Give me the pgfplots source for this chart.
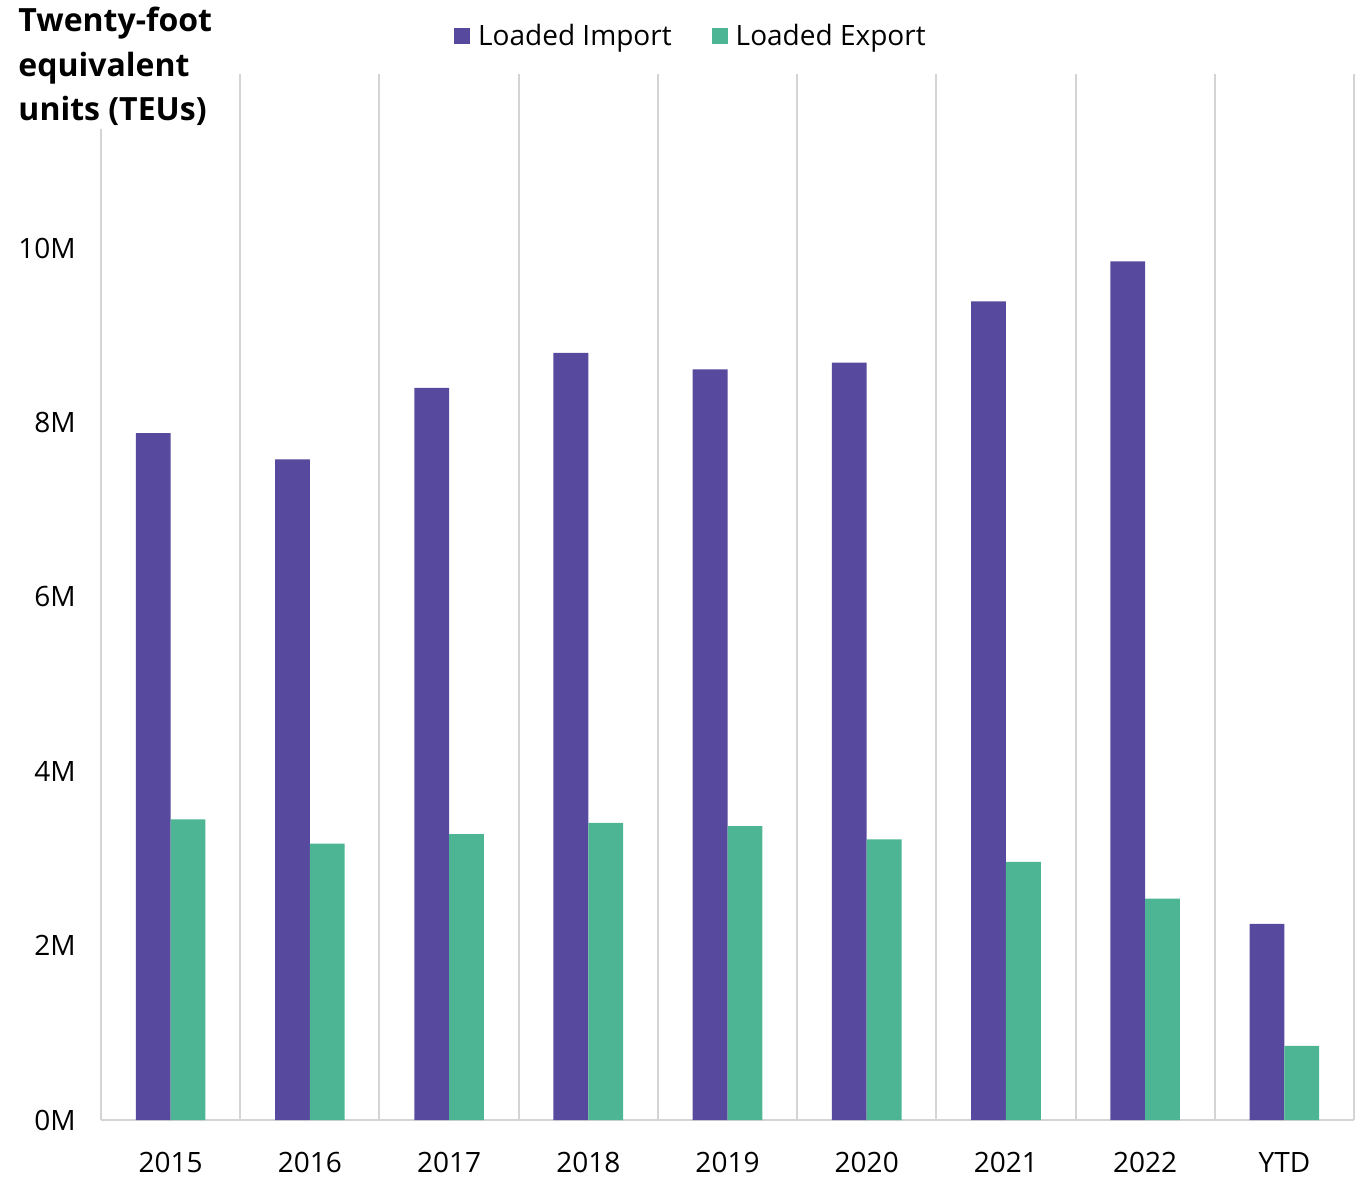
\documentclass[border=0pt]{standalone}
\usepackage{fontspec}
\setmainfont{Open Sans}
\usepackage{pgfplots}
\pgfplotsset{compat=1.18}
\definecolor{imp}{HTML}{57499D}
\definecolor{expc}{HTML}{4DB594}
\definecolor{gridc}{HTML}{D4D4D4}
\begin{document}
\begin{tikzpicture}[x=1pt,y=1pt]
\path[use as bounding box] (-40.4,-22.8) rectangle (504.8,448);
\begin{axis}[at={(0,0)}, anchor=south west, scale only axis,
  width=501.2pt, height=418.4pt,
  xmin=-0.5, xmax=8.5, ymin=0, ymax=12,
  ybar=0pt, bar width=0.25,
  xtick={0,1,2,3,4,5,6,7,8},
  xticklabels={2015,2016,2017,2018,2019,2020,2021,2022,YTD},
  ytick={0,2,4,6,8,10}, yticklabels={0M,2M,4M,6M,8M,10M},
  minor xtick={-0.5,0.5,1.5,2.5,3.5,4.5,5.5,6.5,7.5,8.5},
  xminorgrids=true, minor x grid style={gridc, line width=0.8pt},
  major tick length=0pt, minor tick length=0pt,
  axis x line*=bottom, axis y line*=left,
  axis line style={gridc, line width=0.8pt, -},
  tick label style={font=\fontsize{11.2}{13}\selectfont, text=black},
  y tick label style={xshift=-6.6pt},
  x tick label style={yshift=-9.4pt},
  legend style={at={(0.472,1.036)}, anchor=center, draw=none, fill=none,
    legend columns=2, font=\fontsize{11.2}{13}\selectfont,
    /tikz/every even column/.append style={column sep=14pt}},
  legend image code/.code={\fill[#1] (0pt,-3.2pt) rectangle (6.4pt,3.2pt);},
]
\addplot[fill=imp, draw=none] coordinates {(0,7.88) (1,7.58) (2,8.40) (3,8.80) (4,8.61) (5,8.69) (6,9.39) (7,9.85) (8,2.25)};
\addplot[fill=expc, draw=none] coordinates {(0,3.45) (1,3.17) (2,3.28) (3,3.41) (4,3.37) (5,3.22) (6,2.96) (7,2.54) (8,0.85)};
\legend{\hspace{1.2pt}Loaded Import, \hspace{1.2pt}Loaded Export}
\end{axis}
\node[anchor=north west, fill=white, inner sep=1pt, align=left,
  font=\fontsize{12.8}{17.8}\selectfont\bfseries] at (-34.2,446.2) {Twenty-foot\\equivalent\\units (TEUs)};
\end{tikzpicture}
\end{document}
